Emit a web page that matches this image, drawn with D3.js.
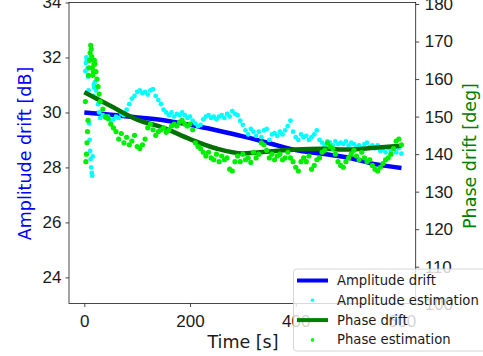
<!DOCTYPE html>
<html>
<head>
<meta charset="utf-8">
<script src="https://cdn.jsdelivr.net/npm/d3@7"></script>
<style>
  body { margin: 0; background: #fff; }
  svg { display: block; font-family: "DejaVu Sans", sans-serif; }
</style>
</head>
<body>
<div id="chart"></div>
<script>
// drift curves (smooth)
const driftTime = [0, 50, 100, 150, 200, 250, 300, 350, 400, 450, 500, 550, 600];
const ampDrift = [30.0, 29.92, 29.82, 29.72, 29.55, 29.35, 29.13, 28.88, 28.63, 28.5, 28.35, 28.12, 27.98];
const phaseDrift = [156.5, 152.8, 149.2, 147.0, 144.0, 141.5, 140.2, 140.7, 141.2, 141.4, 141.2, 141.7, 142.2];

// estimation points
const estTime = [2, 3, 4, 5, 6, 7, 8, 9, 10, 11, 12, 13, 14, 15, 16, 17, 18, 19, 20, 22, 24, 26, 28, 30,
  35, 40, 45, 50, 55, 60, 65, 70, 75, 80, 85, 90, 95, 100, 105, 110, 115, 120, 125, 130, 135, 140,
  145, 150, 155, 160, 165, 170, 175, 180, 185, 190, 195, 200, 205, 210, 215, 220, 225, 230, 235, 240,
  245, 250, 255, 260, 265, 270, 275, 280, 285, 290, 295, 300, 305, 310, 315, 320, 325, 330, 335, 340,
  345, 350, 355, 360, 365, 370, 375, 380, 385, 390, 395, 400, 405, 410, 415, 420, 425, 430, 435, 440,
  445, 450, 455, 460, 465, 470, 475, 480, 485, 490, 495, 500, 505, 510, 515, 520, 525, 530, 535, 540,
  545, 550, 555, 560, 565, 570, 575, 580, 585, 590, 595, 600];
const ampEst = [31.5, 31.8, 32.0, 31.9, 31.6, 31.3, 30.8, 29.6, 29.0, 28.6, 28.3, 28.0, 27.8, 27.7, 28.4, 30.6, 31.0, 30.9, 31.1, 30.8, 30.5, 30.3, 30.0, 29.8,
  29.9, 29.8, 29.85, 29.7, 29.75, 29.85, 29.8, 29.95, 29.9, 30.1, 30.3, 30.5, 30.6, 30.75, 30.8, 30.7, 30.75, 30.65, 30.8, 30.85, 30.6, 30.45,
  30.3, 30.1, 30.0, 29.9, 30.0, 29.85, 29.95, 29.9, 30.0, 29.9, 29.8, 29.85, 29.7, 29.6, 29.5, 29.55, 29.75, 29.85, 29.9, 29.8,
  29.85, 29.75, 29.85, 29.9, 29.8, 29.95, 29.85, 30.05, 29.95, 29.9, 29.7, 29.55, 29.35, 29.2, 29.4, 29.3, 29.15, 29.3, 29.1, 29.35,
  29.4, 29.0, 29.2, 29.25, 29.15, 29.3, 29.2, 29.35, 29.5, 29.7, 29.3, 29.1, 29.0, 29.2, 29.1, 29.15, 29.0, 29.1, 29.2, 29.35,
  29.0, 28.9, 28.8, 28.95, 28.9, 28.8, 28.95, 28.85, 28.9, 28.85, 28.95, 28.8, 28.9, 28.85, 28.75, 28.8, 28.7, 28.85, 28.9, 28.75,
  28.8, 28.7, 28.8, 28.6, 28.65, 28.55, 28.7, 28.6, 28.75, 28.55, 28.7, 28.5];
const phaseEst = [154, 138, 140, 143, 146, 149, 161, 163, 165, 167, 169, 168, 166, 163, 161, 162, 164, 165, 164, 162, 160, 158, 156, 154,
  152, 150, 149.5, 148, 147, 146, 144, 145.5, 143, 144.5, 142.5, 143.5, 145, 142, 141.5, 142.5, 144, 147, 148, 146.5, 145, 146,
  146.5, 147, 145.8, 146.5, 147.5, 148, 147.5, 148.5, 149, 148, 147.5, 148, 146.5, 143, 142, 141.5, 140.5, 139.5, 140.5, 139,
  138.5, 140, 138, 139.5, 138.5, 139, 136, 135.5, 138, 139.5, 138, 140, 138.5, 139, 137.8, 140.5, 139, 140, 143, 142.5,
  141, 139, 140, 138.5, 139.5, 140, 138.5, 139, 140.5, 139, 138, 136.5, 135.5, 138, 139, 138, 139.5, 136, 137, 138.5,
  139, 140.5, 141, 143, 142, 141.5, 140, 138, 137, 136.5, 138, 139, 140, 141, 139.5, 138.5, 140.5, 139, 138, 138.5,
  137, 136, 135.5, 136.5, 137.5, 138.5, 139, 140, 141.5, 143.5, 144, 142.5];

const xTicks = [0, 200, 400, 600];
const ampTicks = [24, 26, 28, 30, 32, 34];
const phaseTicks = [100, 110, 120, 130, 140, 150, 160, 170, 180];
const legendItems = [
  { label: 'Amplitude drift', kind: 'line', color: '#0000ff' },
  { label: 'Amplitude estimation', kind: 'dot', color: '#00ffff' },
  { label: 'Phase drift', kind: 'line', color: '#008000' },
  { label: 'Phase estimation', kind: 'dot', color: '#00ff00' }
];

const width = 483, height = 356;
const plot = { left: 69, right: 415.7, top: 2.5, bottom: 303.5 };
const tickFont = '17px';
const labelFont = '17.5px';
const ink = '#1a1a1a';

const svg = d3.select('#chart').append('svg')
  .attr('width', width)
  .attr('height', height);

const x = d3.scaleLinear().domain([-29, 627]).range([plot.left, plot.right]);
const yAmp = d3.scaleLinear().domain([23.05, 34]).range([plot.bottom, plot.top]);
const yPhase = d3.scaleLinear().domain([100.2, 180.4]).range([plot.bottom, plot.top]);

// data
const ampLine = d3.line().x((d, i) => x(driftTime[i])).y(d => yAmp(d)).curve(d3.curveMonotoneX);
const phaseLine = d3.line().x((d, i) => x(driftTime[i])).y(d => yPhase(d)).curve(d3.curveMonotoneX);

svg.append('path')
  .attr('d', ampLine(ampDrift))
  .attr('fill', 'none')
  .attr('stroke', '#0000ff')
  .attr('stroke-width', 4.5);

svg.append('g').selectAll('circle')
  .data(ampEst)
  .join('circle')
  .attr('cx', (d, i) => x(estTime[i]))
  .attr('cy', d => yAmp(d))
  .attr('r', 2.4)
  .attr('fill', '#00ffff');

svg.append('path')
  .attr('d', phaseLine(phaseDrift))
  .attr('fill', 'none')
  .attr('stroke', '#007000')
  .attr('stroke-width', 4.5);

svg.append('g').selectAll('circle')
  .data(phaseEst)
  .join('circle')
  .attr('cx', (d, i) => x(estTime[i]))
  .attr('cy', d => yPhase(d))
  .attr('r', 2.6)
  .attr('fill', '#00ee00');

// axes
const styleAxis = g => {
  g.select('.domain').remove();
  g.selectAll('.tick line').attr('stroke', ink).attr('stroke-width', 0.8);
  g.selectAll('.tick text').attr('fill', ink).style('font-size', tickFont);
};

svg.append('g')
  .attr('transform', `translate(0,${plot.bottom})`)
  .call(d3.axisBottom(x).tickValues(xTicks).tickSize(3.5).tickPadding(8))
  .call(styleAxis);

svg.append('g')
  .attr('transform', `translate(${plot.left},0)`)
  .call(d3.axisLeft(yAmp).tickValues(ampTicks).tickSize(3.5).tickPadding(4))
  .call(styleAxis);

svg.append('g')
  .attr('transform', `translate(${plot.right},0)`)
  .call(d3.axisRight(yPhase).tickValues(phaseTicks).tickSize(3.5).tickPadding(5.5))
  .call(styleAxis);

svg.selectAll('.tick text').attr('font-family', null);

// frame
svg.append('rect')
  .attr('x', plot.left)
  .attr('y', plot.top)
  .attr('width', plot.right - plot.left)
  .attr('height', plot.bottom - plot.top)
  .attr('fill', 'none')
  .attr('stroke', ink)
  .attr('stroke-width', 0.8);

// axis labels
svg.append('text')
  .attr('x', 243)
  .attr('y', 348)
  .attr('text-anchor', 'middle')
  .attr('fill', ink)
  .style('font-size', labelFont)
  .text('Time [s]');

svg.append('text')
  .attr('transform', 'translate(25,153.5) rotate(-90)')
  .attr('text-anchor', 'middle')
  .attr('dominant-baseline', 'central')
  .attr('fill', '#0000ff')
  .style('font-size', labelFont)
  .text('Amplitude drift [dB]');

svg.append('text')
  .attr('transform', 'translate(470,156) rotate(-90)')
  .attr('text-anchor', 'middle')
  .attr('dominant-baseline', 'central')
  .attr('fill', '#008000')
  .style('font-size', labelFont)
  .text('Phase drift [deg]');

// legend
const legend = svg.append('g').attr('transform', 'translate(293.5,269)');
legend.append('rect')
  .attr('width', 200)
  .attr('height', 82)
  .attr('rx', 3)
  .attr('fill', '#fff')
  .attr('fill-opacity', 0.8)
  .attr('stroke', '#cccccc')
  .attr('stroke-width', 0.8);

const rows = legend.selectAll('g.row')
  .data(legendItems)
  .join('g')
  .attr('class', 'row')
  .attr('transform', (d, i) => `translate(0,${11.5 + i * 19.8})`);

rows.filter(d => d.kind === 'line').append('line')
  .attr('x1', 3.5).attr('x2', 34.5)
  .attr('stroke', d => d.color)
  .attr('stroke-width', 4);

rows.filter(d => d.kind === 'dot').append('circle')
  .attr('cx', 19)
  .attr('r', 1.8)
  .attr('fill', d => d.color);

rows.append('text')
  .attr('x', 43.5)
  .attr('dominant-baseline', 'central')
  .attr('fill', ink)
  .style('font-size', '13.2px')
  .text(d => d.label);
</script>
</body>
</html>
